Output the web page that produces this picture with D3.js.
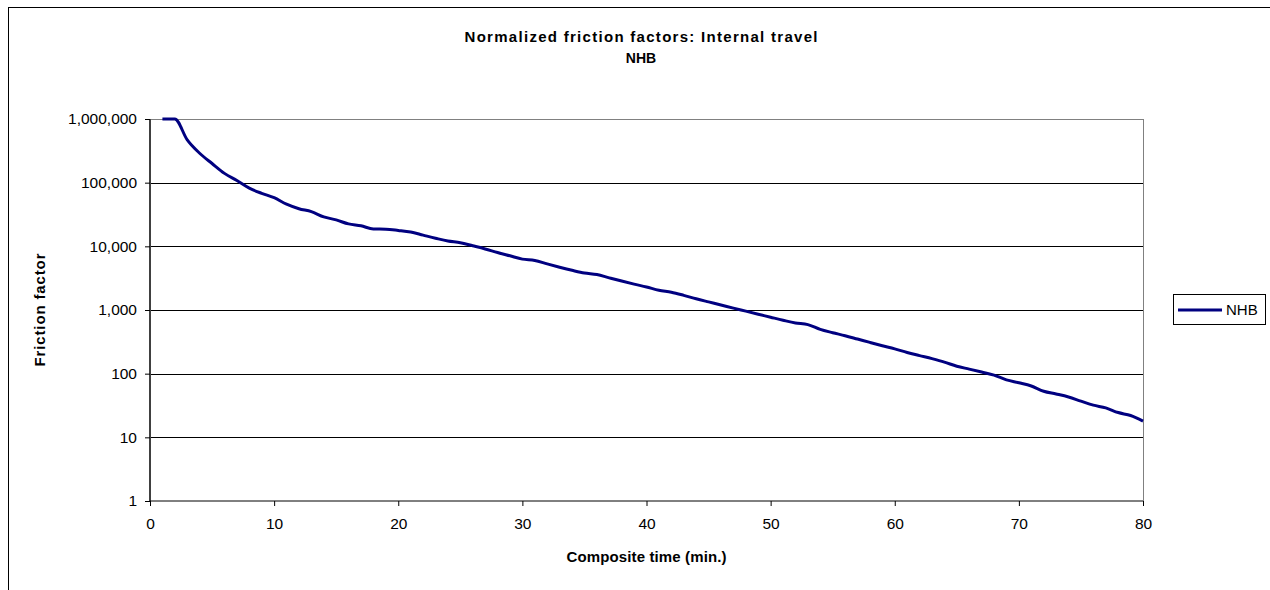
<!DOCTYPE html>
<html>
<head>
<meta charset="utf-8">
<script src="https://cdn.jsdelivr.net/npm/d3@7"></script>
<style>
  body { margin: 0; background: #fff; }
  text { font-family: Arial, "Liberation Sans", sans-serif; }
</style>
</head>
<body>
<div id="chart"></div>
<script>
// Data
var times = [1, 2, 3, 4, 5, 6, 7, 8, 9, 10,
  11, 12, 13, 14, 15, 16, 17, 18, 19, 20,
  21, 22, 23, 24, 25, 26, 27, 28, 29, 30,
  31, 32, 33, 34, 35, 36, 37, 38, 39, 40,
  41, 42, 43, 44, 45, 46, 47, 48, 49, 50,
  51, 52, 53, 54, 55, 56, 57, 58, 59, 60,
  61, 62, 63, 64, 65, 66, 67, 68, 69, 70,
  71, 72, 73, 74, 75, 76, 77, 78, 79, 80];
var nhb = [1000000, 1000000, 470000, 290000, 200000, 140000, 108000, 82000, 68000, 58000,
  46000, 39000, 35000, 29000, 26000, 22500, 21000, 18700, 18600, 17800,
  16800, 15000, 13400, 12100, 11400, 10200, 9100, 8000, 7100, 6300,
  6000, 5300, 4700, 4200, 3800, 3600, 3200, 2850, 2550, 2300,
  2040, 1900, 1700, 1500, 1340, 1200, 1070, 960, 860, 770,
  690, 625, 590, 495, 440, 395, 350, 310, 275, 245,
  215, 192, 172, 152, 131, 118, 106, 95, 80, 72,
  64, 53, 48, 43, 37, 32, 29, 24.5, 22, 18];
var yTicks = [1, 10, 100, 1000, 10000, 100000, 1000000];
var xTicks = [0, 10, 20, 30, 40, 50, 60, 70, 80];
var seriesName = "NHB";

var svgWidth = 1270;
var svgHeight = 590;

var margin = { top: 119, right: 127, bottom: 89, left: 150 };
var width = svgWidth - margin.left - margin.right;   // 993
var height = svgHeight - margin.top - margin.bottom; // 382

var svg = d3.select("#chart")
  .append("svg")
  .attr("width", svgWidth)
  .attr("height", svgHeight);

// outer chart border
svg.append("rect")
  .attr("x", 8.5)
  .attr("y", 7.5)
  .attr("width", 1300)
  .attr("height", 700)
  .attr("fill", "none")
  .attr("stroke", "#000")
  .attr("stroke-width", 1);

var chartGroup = svg.append("g")
  .attr("transform", `translate(${margin.left}, ${margin.top})`);

var xScale = d3.scaleLinear().domain([0, 80]).range([0, width]);
var yScale = d3.scaleLog().domain([1, 1000000]).range([height, 0]);

// gridlines
chartGroup.selectAll(".grid")
  .data(yTicks.filter(d => d > 1))
  .enter()
  .append("line")
  .attr("x1", 0)
  .attr("x2", width)
  .attr("y1", d => Math.round(yScale(d)) + 0.5)
  .attr("y2", d => Math.round(yScale(d)) + 0.5)
  .attr("stroke", d => d === 1000000 ? "#808080" : "#000")
  .attr("stroke-width", 1);

// right border of plot area
chartGroup.append("line")
  .attr("x1", width + 0.5).attr("x2", width + 0.5)
  .attr("y1", 0).attr("y2", height)
  .attr("stroke", "#808080");

// axes
var leftAxis = d3.axisLeft(yScale)
  .tickValues(yTicks)
  .tickSize(5)
  .tickPadding(8)
  .tickFormat(d3.format(",d"));
var bottomAxis = d3.axisBottom(xScale)
  .tickValues(xTicks)
  .tickSize(5)
  .tickPadding(12)
  .tickFormat(d3.format("d"));

var yAxis = chartGroup.append("g").call(leftAxis);
var xAxis = chartGroup.append("g")
  .attr("transform", `translate(0, ${height})`)
  .call(bottomAxis);

yAxis.select(".domain").attr("stroke", "#404040").attr("stroke-width", 2).attr("d", `M0,0V${height}`);
xAxis.select(".domain").attr("stroke", "#000").attr("d", `M0,0H${width}`);
[yAxis, xAxis].forEach(function (ax) {
  ax.selectAll("text")
    .attr("font-size", "15.5px")
    .attr("fill", "#000")
    .attr("font-family", "Arial, 'Liberation Sans', sans-serif");
  ax.selectAll(".tick line").attr("stroke", "#000");
});

// series line
var line = d3.line()
  .x((d, i) => xScale(times[i]))
  .y(d => yScale(d))
  .curve(d3.curveMonotoneX);

chartGroup.append("path")
  .datum(nhb)
  .attr("fill", "none")
  .attr("stroke", "#000080")
  .attr("stroke-width", 3)
  .attr("stroke-linejoin", "round")
  .attr("d", line);

// titles
svg.append("text")
  .attr("x", 641).attr("y", 42)
  .attr("text-anchor", "middle")
  .attr("font-size", "15px")
  .attr("font-weight", "bold")
  .attr("textLength", 353)
  .attr("lengthAdjust", "spacing")
  .text("Normalized friction factors: Internal travel");
svg.append("text")
  .attr("x", 641).attr("y", 63)
  .attr("text-anchor", "middle")
  .attr("font-size", "14px")
  .attr("font-weight", "bold")
  .text("NHB");

// axis labels
svg.append("text")
  .attr("x", margin.left + width / 2).attr("y", 562)
  .attr("text-anchor", "middle")
  .attr("font-size", "15px")
  .attr("font-weight", "bold")
  .attr("textLength", 160)
  .attr("lengthAdjust", "spacing")
  .text("Composite time (min.)");
svg.append("text")
  .attr("transform", `translate(45, ${margin.top + height / 2}) rotate(-90)`)
  .attr("text-anchor", "middle")
  .attr("font-size", "15px")
  .attr("font-weight", "bold")
  .attr("textLength", 113)
  .attr("lengthAdjust", "spacing")
  .text("Friction factor");

// legend
var legend = svg.append("g").attr("transform", "translate(1173, 294)");
legend.append("rect")
  .attr("x", 0.5).attr("y", 0.5)
  .attr("width", 92).attr("height", 30)
  .attr("fill", "#fff")
  .attr("stroke", "#000");
legend.append("line")
  .attr("x1", 5).attr("x2", 49)
  .attr("y1", 16).attr("y2", 16)
  .attr("stroke", "#000080")
  .attr("stroke-width", 3);
legend.append("text")
  .attr("x", 53).attr("y", 21)
  .attr("font-size", "15px")
  .text(seriesName);
</script>
</body>
</html>
